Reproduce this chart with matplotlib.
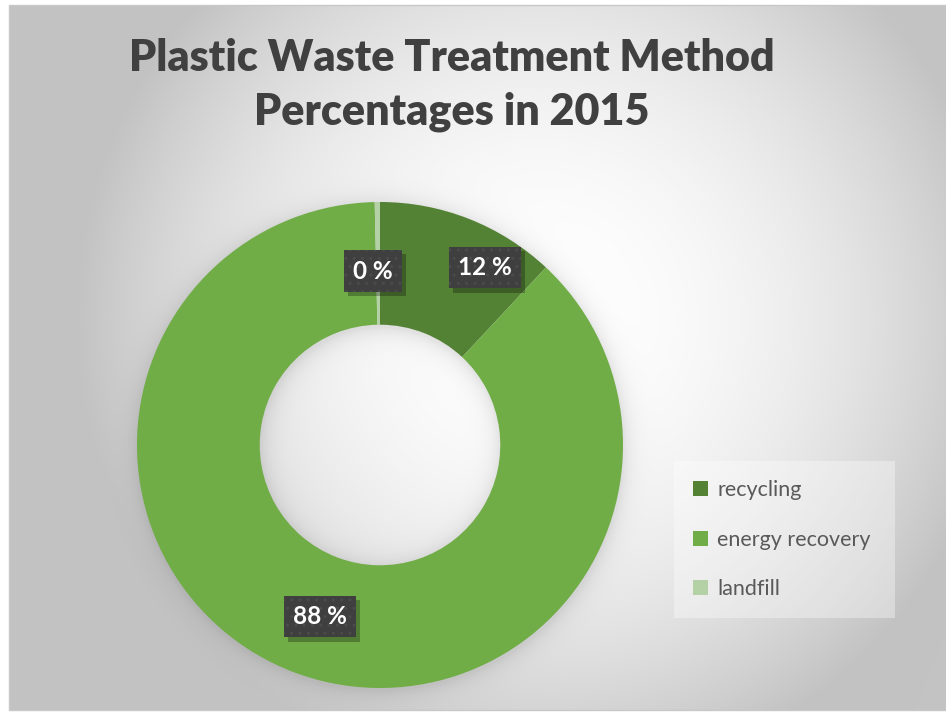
import numpy as np
import matplotlib.pyplot as plt
from matplotlib.patches import Rectangle
from matplotlib import patheffects

methods = ['recycling', 'energy recovery', 'landfill']
shares = [12, 88, 0.35]
colors = ['#548235', '#70AD47', '#B4D1A6']
title = 'Plastic Waste Treatment Method\nPercentages in 2015'

# label nudges (data units) so the boxes sit like the original layout
nudges = [(0.156, 0.032), (0.02, -0.006), (-0.02, -0.034)]

W, H = 946, 712
fig = plt.figure(figsize=(W / 100, H / 100), dpi=100)
fig.patch.set_facecolor('white')

# donut
ax = fig.add_axes([137 / W, 24 / H, 486 / W, 486 / H])
wedges, _ = ax.pie(shares, colors=colors, startangle=90, counterclock=False,
                   radius=1, wedgeprops=dict(width=0.505, linewidth=0))
ax.set_xlim(-1, 1)
ax.set_ylim(-1, 1)
ax.set_aspect('equal')
ax.axis('off')
ax.set_zorder(2)
ax.patch.set_alpha(0)

# background: radial grey gradient plus soft shadow round the ring
x0, y0, x1, y1 = 9, 2, W, H - 5
gw, gh = x1 - x0, y1 - y0
px = np.arange(gw)[None, :] + x0
py = (y0 + gh - 1 - np.arange(gh))[:, None]          # display y, bottom origin
gx, gy = 540, H - 320
t2 = ((px - gx) / 462.0) ** 2 + ((py - gy) / 466.0) ** 2
val = 1 - (60 / 255) * np.clip(t2, 0, 1)

cx, cy = ax.transData.transform((0, 0))
r_out = ax.transData.transform((1, 0))[0] - cx
r_in = r_out * (1 - 0.505)
r = np.hypot(px - cx, py - (cy - 3))
d = np.maximum(r - r_out, r_in - r)
shade = np.where(d > 0, 0.10 * np.exp(-d / 10.0), 0.10)
val = val * (1 - shade)
img = np.dstack([val, val, val])
fig.figimage(img, xo=x0, yo=y0, origin='upper', zorder=0)
fig.patches.append(Rectangle((x0 / W, y0 / H), gw / W, gh / H, transform=fig.transFigure,
                             fill=False, edgecolor='#c8c8c8', linewidth=1, zorder=1))

# data labels in dark boxes with a drop shadow
for w, v, (nx, ny) in zip(wedges, shares, nudges):
    mid = np.deg2rad((w.theta1 + w.theta2) / 2)
    lx = 0.75 * np.cos(mid) + nx
    ly = 0.75 * np.sin(mid) + ny
    t = ax.text(lx, ly, f'{v:.0f} %', ha='center', va='center', fontsize=17.5,
                fontweight='bold', family='Lato', color='white', zorder=4,
                bbox=dict(boxstyle='square,pad=0.38', facecolor='#3f3f3f',
                          edgecolor='#4b4b4b', hatch='..', linewidth=0))
    t.get_bbox_patch().set_path_effects(
        [patheffects.SimplePatchShadow(offset=(3, -3), shadow_rgbFace='black',
                                       alpha=0.28, hatch=None),
         patheffects.Normal()])

fig.text(452 / W, 1 - 38 / H, title, ha='center', va='top', fontsize=31,
         fontweight='heavy', family='Lato', color='#404040', linespacing=1.4)

leg = fig.legend(wedges, methods, loc='upper left',
                 bbox_to_anchor=(674 / W, 1 - 461 / H, 221 / W, 0), mode='expand',
                 frameon=True, fancybox=False, facecolor='white', framealpha=0.35,
                 edgecolor='none', prop=dict(family='Lato', size=15.5),
                 labelcolor='#595959', handlelength=0.7, handleheight=0.7,
                 handletextpad=0.4, labelspacing=1.36, borderpad=0.9,
                 borderaxespad=0)

fig.savefig('out.png', dpi=100)
